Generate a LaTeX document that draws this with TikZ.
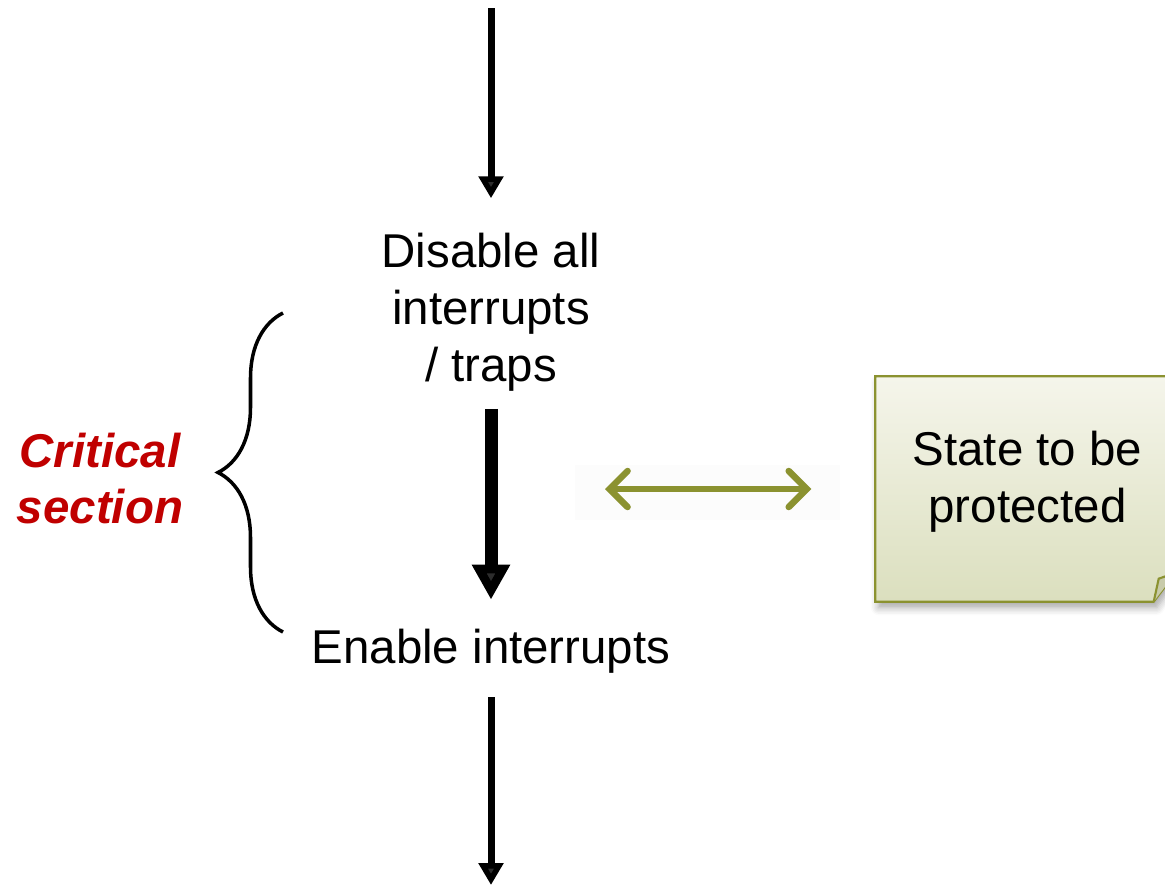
\documentclass[tikz,border=0pt]{standalone}
\usepackage{fontspec}
\setmainfont{Liberation Sans}
\usetikzlibrary{arrows.meta,decorations.pathreplacing,shadows.blur}

\definecolor{olivegreen}{RGB}{139,146,48}
\definecolor{critred}{RGB}{192,0,0}
\definecolor{notetop}{RGB}{245,245,235}
\definecolor{notebottom}{RGB}{219,223,190}
\definecolor{notefold}{RGB}{200,203,170}

\tikzset{
  flowtext/.style={font=\fontsize{13.5}{16.2}\selectfont, align=center, inner sep=0pt},
  crittext/.style={font=\fontsize{13.5}{16}\selectfont\bfseries\itshape, text=critred, align=center, inner sep=0pt},
  thinflow/.style={line width=0.07cm, -{Triangle[length=2.2mm,width=2.4mm]}},
  fatflow/.style={line width=0.13cm, -{Triangle[length=3.5mm,width=3.6mm]}},
  link/.style={olivegreen, line width=0.065cm, line cap=round,
    {Straight Barb[length=1.8mm,width=3.6mm,line cap=round]}-{Straight Barb[length=1.8mm,width=3.6mm,line cap=round]}},
  notepaper/.style={draw=olivegreen, line width=0.6pt, top color=notetop, bottom color=notebottom,
    blur shadow={shadow xshift=0.3mm, shadow yshift=-0.6mm, shadow blur steps=6, shadow opacity=35}}
}

\begin{document}
\begin{tikzpicture}
    \useasboundingbox (0,0) rectangle (11.65,8.85);

    \coordinate (start) at (4.91,8.77);
    \coordinate (finish) at (4.91,0);
    \coordinate (brtop) at (2.83,5.72);
    \coordinate (brbot) at (2.83,2.53);
    \coordinate (protect) at (6.05,3.96);

    \node[flowtext] (disable) at (4.91,5.73) {Disable all\\interrupts\\/ traps};
    \node[flowtext] (enable) at (4.91,2.335) {Enable interrupts};
    \node[crittext] (critical) at (1.00,4.065) {Critical\\section};

    % sticky note
    \node[minimum width=2.99cm, minimum height=2.24cm, inner sep=0pt] (note) at (10.255,3.96) {};
    \path[notepaper] (note.north west) -- (note.north east) -- ([yshift=0.29cm]note.south east)
        -- ([xshift=-0.22cm]note.south east) -- (note.south west) -- cycle;
    \draw[olivegreen, line width=0.6pt, fill=notefold] ([xshift=-0.22cm]note.south east)
        -- ([xshift=-0.17cm,yshift=0.23cm]note.south east) -- ([yshift=0.29cm]note.south east);
    \node[flowtext] (state) at ([xshift=0.02cm,yshift=0.07cm]note.center) {State to be\\protected};

    \draw[thinflow, shorten >=0.34cm] (start) -- (disable.north);
    \draw[fatflow, shorten <=0.17cm, shorten >=0.29cm] (disable.south) -- (enable.north);
    \draw[thinflow, shorten <=0.23cm] (enable.south) -- (finish);

    \draw[line width=1pt, decorate, decoration={brace, amplitude=0.65cm}] (brbot) -- (brtop);

    \fill[black!1.2] (5.75,3.65) rectangle (8.40,4.20);
    \draw[link, shorten >=0.64cm] (protect) -- (note.west);

\end{tikzpicture}
\end{document}
